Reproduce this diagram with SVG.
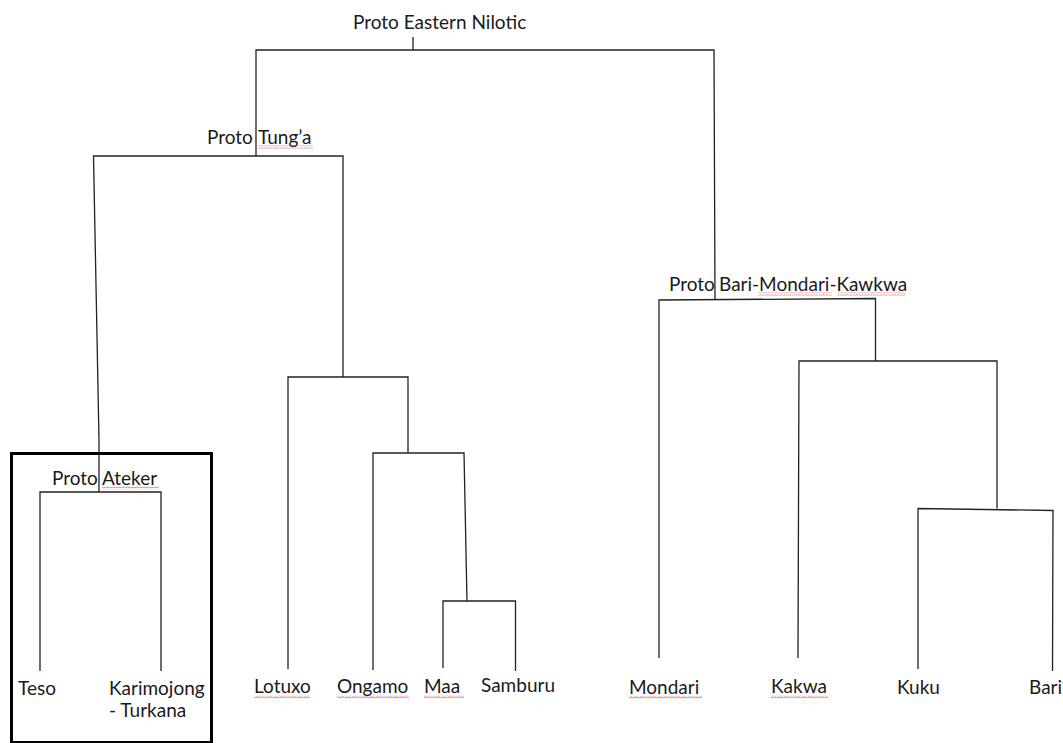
<svg xmlns="http://www.w3.org/2000/svg" width="1063" height="743" viewBox="0 0 1063 743">
  <defs>
    <style>
      .lbl { font-family: Lato, "Open Sans", "Liberation Sans", sans-serif; font-size: 19px; fill: #1a1a1a; }
      .edge { fill: none; stroke: #222; stroke-width: 1.3; stroke-linejoin: miter; }
      .frame { fill: none; stroke: #000; stroke-width: 3; }
      .spell { fill: url(#squiggle); }
    </style>
    <!-- wavy red underline used under flagged words -->
    <pattern id="squiggle" patternUnits="userSpaceOnUse" x="0" y="0" width="3" height="3">
      <polyline points="0,2.4 1.5,0.6 3,2.4" fill="none" stroke="#e03030" stroke-width="0.7"/>
    </pattern>
  </defs>
  <rect width="1063" height="743" fill="#fff"/>

  <!-- tree branches -->
  <g id="connectors">
    <!-- root -->
    <polyline class="edge" points="413,37 413,50"/>
    <polyline class="edge" points="256,156 256,50 714,50 715,299"/>
    <!-- Proto Tung'a -->
    <polyline class="edge" points="99,492 99,440 93.5,156 343,156 343,377"/>
    <!-- Proto Ateker -->
    <polyline class="edge" points="40,671 40,492 161,492 161,671"/>
    <!-- Lotuxo / rest -->
    <polyline class="edge" points="288,669 288,377 408,377 408,453"/>
    <!-- Ongamo / Maa-Samburu -->
    <polyline class="edge" points="373,670 373,453 464,453 467,601"/>
    <!-- Maa / Samburu -->
    <polyline class="edge" points="443,668 443,601 515.5,601 515.5,671"/>
    <!-- Proto Bari-Mondari-Kawkwa -->
    <polyline class="edge" points="659,658 659,300 875.5,298.5 875.5,361"/>
    <!-- Kakwa / Kuku-Bari -->
    <polyline class="edge" points="798,658 799,361 997,361 997,508.5"/>
    <!-- Kuku / Bari -->
    <polyline class="edge" points="918,669 918,508.5 1053,510.5 1052.5,671"/>
  </g>

  <!-- highlighted Ateker subgroup -->
  <rect id="ateker-frame" class="frame" x="11.5" y="453.5" width="200" height="289"/>

  <g id="proto-eastern-nilotic"><text class="lbl" x="353" y="29">Proto Eastern Nilotic</text></g>

  <g id="proto-tunga">
    <text class="lbl" x="207" y="144">Proto</text>
    <text class="lbl" x="258" y="144">Tung’a</text>
    <rect class="spell" x="258" y="145.5" width="55" height="3"/>
  </g>

  <g id="proto-ateker">
    <text class="lbl" x="52" y="485">Proto</text>
    <text class="lbl" x="102" y="485">Ateker</text>
    <rect class="spell" x="102" y="486.5" width="57" height="3"/>
  </g>

  <g id="proto-bari-mondari-kawkwa">
    <text class="lbl" x="669" y="291">Proto</text>
    <text class="lbl" x="719" y="291">Bari-Mondari-Kawkwa</text>
    <rect class="spell" x="758" y="292.5" width="74" height="3"/>
    <rect class="spell" x="837" y="292.5" width="68" height="3"/>
  </g>

  <g id="teso"><text class="lbl" x="18" y="695">Teso</text></g>

  <g id="karimojong-turkana">
    <text class="lbl" x="109" y="695">Karimojong</text>
    <text class="lbl" x="109" y="717">- Turkana</text>
  </g>

  <g id="lotuxo">
    <text class="lbl" x="254" y="693">Lotuxo</text>
    <rect class="spell" x="254" y="695" width="56" height="3"/>
  </g>

  <g id="ongamo">
    <text class="lbl" x="337" y="693">Ongamo</text>
    <rect class="spell" x="337" y="695" width="72" height="3"/>
  </g>

  <g id="maa">
    <text class="lbl" x="424" y="693">Maa</text>
    <rect class="spell" x="424" y="695" width="40" height="3"/>
  </g>

  <g id="samburu"><text class="lbl" x="481" y="692">Samburu</text></g>

  <g id="mondari">
    <text class="lbl" x="629" y="694">Mondari</text>
    <rect class="spell" x="629" y="696" width="73" height="3"/>
  </g>

  <g id="kakwa">
    <text class="lbl" x="771" y="693">Kakwa</text>
    <rect class="spell" x="771" y="695" width="57" height="3"/>
  </g>

  <g id="kuku"><text class="lbl" x="897" y="694">Kuku</text></g>

  <g id="bari"><text class="lbl" x="1029" y="694">Bari</text></g>
</svg>
